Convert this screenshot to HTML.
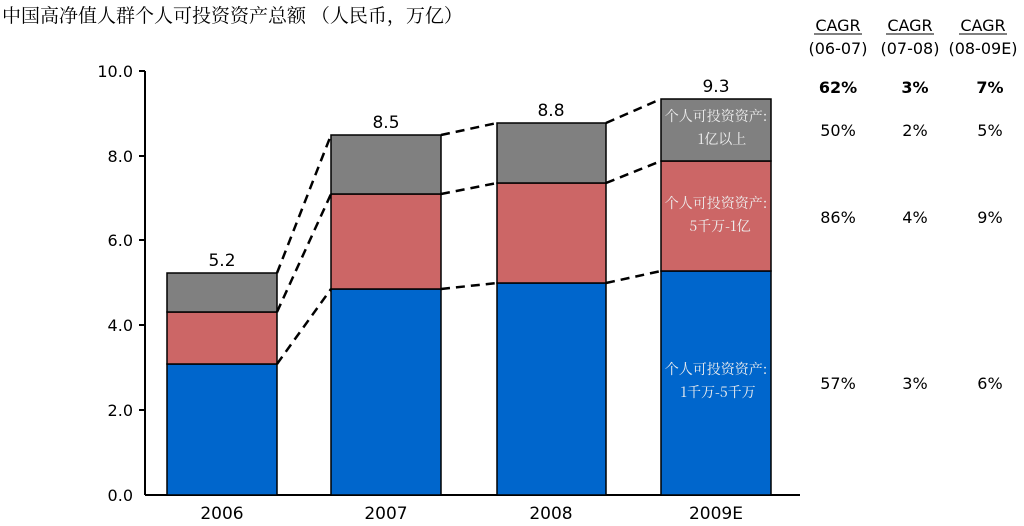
<!DOCTYPE html><html><head><meta charset="utf-8"><style>body{margin:0;background:#fff}svg{display:block}</style></head><body>
<svg width="1024" height="526" xmlns="http://www.w3.org/2000/svg" font-family="DejaVu Sans, Liberation Sans, sans-serif">
<text x="2" y="22" font-family="Noto Serif CJK SC, serif" font-size="19" fill="#000">中国高净值人群个人可投资资产总额 （人民币，万亿）</text>
<g stroke="#000" stroke-width="2">
<line x1="145" y1="71" x2="145" y2="495"/>
<line x1="145" y1="495" x2="800" y2="495"/>
<line x1="139" y1="71" x2="145" y2="71"/><line x1="139" y1="156" x2="145" y2="156"/><line x1="139" y1="240" x2="145" y2="240"/><line x1="139" y1="325" x2="145" y2="325"/><line x1="139" y1="410" x2="145" y2="410"/>
</g>
<g font-size="16" text-anchor="end" fill="#000">
<text x="133" y="77">10.0</text><text x="133" y="162">8.0</text><text x="133" y="246">6.0</text><text x="133" y="331">4.0</text><text x="133" y="416">2.0</text><text x="133" y="501">0.0</text>
</g>
<g stroke="#000" stroke-width="1.5">
<rect x="167" y="364" width="110" height="131" fill="#0066cc"/><rect x="167" y="312" width="110" height="52" fill="#cc6666"/><rect x="167" y="273" width="110" height="39" fill="#808080"/>
<rect x="331" y="289" width="110" height="206" fill="#0066cc"/><rect x="331" y="194" width="110" height="95" fill="#cc6666"/><rect x="331" y="135" width="110" height="59" fill="#808080"/>
<rect x="497" y="283" width="109" height="212" fill="#0066cc"/><rect x="497" y="183" width="109" height="100" fill="#cc6666"/><rect x="497" y="123" width="109" height="60" fill="#808080"/>
<rect x="661" y="271" width="110" height="224" fill="#0066cc"/><rect x="661" y="161" width="110" height="110" fill="#cc6666"/><rect x="661" y="99" width="110" height="62" fill="#808080"/>
</g>
<g stroke="#000" stroke-width="2.5" stroke-dasharray="9,6" fill="none">
<line x1="277" y1="273" x2="331" y2="135"/><line x1="277" y1="312" x2="331" y2="194"/><line x1="277" y1="364" x2="331" y2="289"/>
<line x1="441" y1="135" x2="497" y2="123"/><line x1="441" y1="194" x2="497" y2="183"/><line x1="441" y1="289" x2="497" y2="283"/>
<line x1="606" y1="123" x2="661" y2="99"/><line x1="606" y1="183" x2="661" y2="161"/><line x1="606" y1="283" x2="661" y2="271"/>
</g>
<g font-size="17" text-anchor="middle" fill="#000">
<text x="222" y="266">5.2</text><text x="386" y="128">8.5</text><text x="551" y="116">8.8</text><text x="716" y="92">9.3</text>
<text x="222" y="519">2006</text><text x="386" y="519">2007</text><text x="551" y="519">2008</text><text x="716" y="519">2009E</text>
</g>
<g font-family="Noto Serif CJK SC, serif" font-size="14" fill="#eee" text-anchor="middle">
<text x="716" y="121">个人可投资资产:</text><text x="722" y="144">1亿以上</text>
<text x="716" y="208">个人可投资资产:</text><text x="720" y="231">5千万-1亿</text>
<text x="716" y="374">个人可投资资产:</text><text x="718" y="397">1千万-5千万</text>
</g>
<g font-size="16" text-anchor="middle" fill="#000">
<text x="838" y="31">CAGR</text><text x="910" y="31">CAGR</text><text x="983" y="31">CAGR</text>
<line x1="814" y1="34" x2="862" y2="34" stroke="#000"/><line x1="886" y1="34" x2="934" y2="34" stroke="#000"/><line x1="959" y1="34" x2="1007" y2="34" stroke="#000"/>
<text x="838" y="54">(06-07)</text><text x="910" y="54">(07-08)</text><text x="983" y="54">(08-09E)</text>
<g font-weight="bold"><text x="838" y="93">62%</text><text x="915" y="93">3%</text><text x="990" y="93">7%</text></g>
<text x="838" y="136">50%</text><text x="915" y="136">2%</text><text x="990" y="136">5%</text>
<text x="838" y="223">86%</text><text x="915" y="223">4%</text><text x="990" y="223">9%</text>
<text x="838" y="389">57%</text><text x="915" y="389">3%</text><text x="990" y="389">6%</text>
</g>
</svg></body></html>
